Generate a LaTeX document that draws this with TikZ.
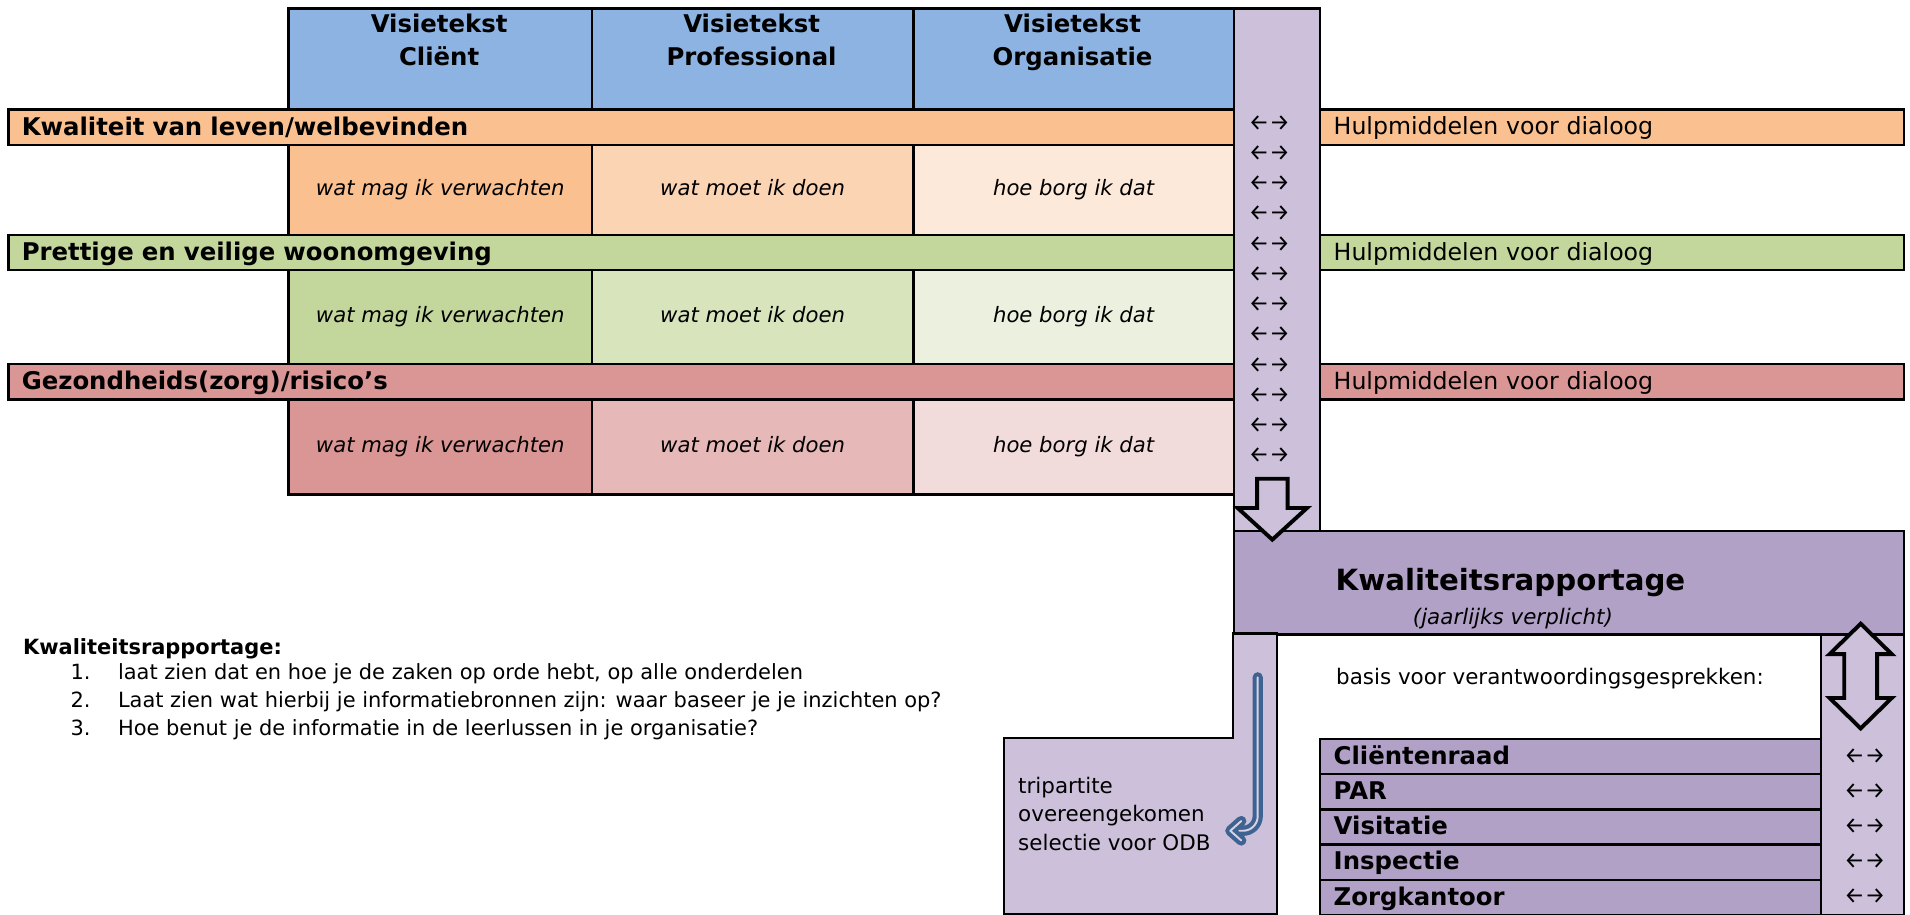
\documentclass[tikz,border=0pt]{standalone}
\usepackage{fontspec}
\usepackage{graphicx}
\setmainfont{DejaVu Sans}
\newfontfamily\firaF{Fira Sans}
\definecolor{hdrblue}{HTML}{8DB3E2}
\definecolor{lav}{HTML}{CCC0DA}
\definecolor{lavD}{HTML}{B2A1C7}
\definecolor{orA}{HTML}{FAC090}
\definecolor{orB}{HTML}{FBD4B4}
\definecolor{orC}{HTML}{FDE9D9}
\definecolor{grA}{HTML}{C3D69B}
\definecolor{grB}{HTML}{D7E4BC}
\definecolor{grC}{HTML}{EBF1DE}
\definecolor{rdA}{HTML}{D99694}
\definecolor{rdB}{HTML}{E6B9B8}
\definecolor{rdC}{HTML}{F2DCDB}
\definecolor{arrowblue}{HTML}{3F6390}
\definecolor{arrowinner}{HTML}{D8D2E6}
\newcommand\fsBar{\fontsize{10}{12}\selectfont\bfseries}
\newcommand\fsHulp{\fontsize{9.7}{11}\selectfont}
\newcommand\fsCell{\fontsize{8.7}{10}\selectfont\itshape}
\newcommand\fsSmall{\fontsize{8.6}{10}\selectfont}
\newcommand\lrarr{{\firaF\resizebox{17pt}{!}{←→}}}
\begin{document}
\begin{tikzpicture}[x=0.5pt,y=-0.5pt,line width=0.9pt,
  box/.style={draw=black,inner sep=0pt,anchor=north west},
  bar/.style={box,font=\fsBar,text height=7.5pt,text depth=1pt,align=left,inner xsep=5.5pt,inner ysep=0pt,minimum height=14.5pt,text width=492pt},
  hbar/.style={box,font=\fsHulp,text height=7.3pt,text depth=1pt,align=left,inner xsep=5.5pt,inner ysep=0pt,minimum height=14.5pt,text width=228.5pt},
  cell/.style={box,font=\fsCell,text height=6.6pt,text depth=1.9pt},
  hdrtext/.style={anchor=base,inner sep=0pt,font=\fsBar},
  arr/.style={inner sep=0pt},
  item/.style={box,fill=lavD,font=\fsBar,text height=7.5pt,text depth=1pt,align=left,inner xsep=5.5pt,inner ysep=0pt,minimum height=14.4pt,text width=194.5pt},
  txt/.style={anchor=base west,inner sep=0pt,font=\fsSmall},
  hollow/.style={draw=black,fill=lav,line width=1.6pt,line join=miter},
  bluearrow/.style={draw=arrowblue,double=arrowinner,double distance=0.8pt,line width=1.7pt,line cap=round,line join=round}]
\useasboundingbox (0,0) rectangle (1568,751);

% header
\node[box,fill=hdrblue,minimum width=124.5pt,minimum height=41.5pt] (h1) at (236,6) {};
\node[box,fill=hdrblue,minimum width=132pt,minimum height=41.5pt] (h2) at (485,6) {};
\node[box,fill=hdrblue,minimum width=131.5pt,minimum height=41.5pt] (h3) at (749,6) {};
\node[hdrtext] (h1a) at (360.5,27) {Visietekst};
\node[hdrtext] (h1b) at (360.5,54) {Cliënt};
\node[hdrtext] (h2a) at (617,27) {Visietekst};
\node[hdrtext] (h2b) at (617,54) {Professional};
\node[hdrtext] (h3a) at (880.5,27) {Visietekst};
\node[hdrtext] (h3b) at (880.5,54) {Organisatie};

% purple column
\node[box,fill=lav,minimum width=35.5pt,minimum height=214.5pt] (col) at (1012,6) {};

% theme 1
\node[bar,fill=orA] (b1) at (6,89) {Kwaliteit van leven/welbevinden};
\node[hbar,fill=orA] (r1) at (1083,89) {Hulpmiddelen voor dialoog};
\node[cell,fill=orA,minimum width=124.5pt,minimum height=37pt] (c11) at (236,118) {wat mag ik verwachten};
\node[cell,fill=orB,minimum width=132pt,minimum height=37pt] (c12) at (485,118) {wat moet ik doen};
\node[cell,fill=orC,minimum width=131.5pt,minimum height=37pt] (c13) at (749,118) {hoe borg ik dat};

% theme 2
\node[bar,fill=grA] (b2) at (6,192) {Prettige en veilige woonomgeving};
\node[hbar,fill=grA] (r2) at (1083,192) {Hulpmiddelen voor dialoog};
\node[cell,fill=grA,minimum width=124.5pt,minimum height=38.5pt] (c21) at (236,221) {wat mag ik verwachten};
\node[cell,fill=grB,minimum width=132pt,minimum height=38.5pt] (c22) at (485,221) {wat moet ik doen};
\node[cell,fill=grC,minimum width=131.5pt,minimum height=38.5pt] (c23) at (749,221) {hoe borg ik dat};

% theme 3
\node[bar,fill=rdA] (b3) at (6,298) {Gezondheids(zorg)/risico’s};
\node[hbar,fill=rdA] (r3) at (1083,298) {Hulpmiddelen voor dialoog};
\node[cell,fill=rdA,minimum width=124.5pt,minimum height=39pt] (c31) at (236,327) {wat mag ik verwachten};
\node[cell,fill=rdB,minimum width=132pt,minimum height=39pt] (c32) at (485,327) {wat moet ik doen};
\node[cell,fill=rdC,minimum width=131.5pt,minimum height=39pt] (c33) at (749,327) {hoe borg ik dat};

% column arrows
\foreach \i in {0,...,11}
  \node[arr] (ca\i) at (1042,{101+24.8*\i}) {\lrarr};

% rapportage box
\node[box,fill=lavD,minimum width=275pt,minimum height=42.5pt] (kr) at (1012,435) {};
\node[anchor=base,inner sep=0pt,font=\fontsize{12}{14}\selectfont\bfseries] (krt) at (1240,485) {Kwaliteitsrapportage};
\node[anchor=base,inner sep=0pt,font=\fontsize{8.8}{10}\selectfont\itshape] (krs) at (1242,513) {(jaarlijks verplicht)};

% hollow down arrow
\draw[hollow] (1032,393) -- (1057,393) -- (1057,417) -- (1073,417) -- (1044.5,443) -- (1016,417) -- (1032,417) -- cycle;

% left L shape
\draw[fill=lav] (1012,520) -- (1048,520) -- (1048,750) -- (824,750) -- (824,606) -- (1012,606) -- cycle;
\node[txt,font=\fontsize{8.8}{10}\selectfont] (tp1) at (835,651) {tripartite};
\node[txt,font=\fontsize{8.8}{10}\selectfont] (tp2) at (835,674.5) {overeengekomen};
\node[txt,font=\fontsize{8.8}{10}\selectfont] (tp3) at (835,698) {selectie voor ODB};

% blue hook arrow
\draw[bluearrow,rounded corners=6pt] (1032.5,556) -- (1032.5,682) -- (1011,682);
\draw[bluearrow] (1019,674) -- (1010,682) -- (1019,690);

% right strip
\node[box,fill=lav,minimum width=34pt,minimum height=115pt] (rs) at (1494,520) {};
\draw[hollow] (1527.5,512) -- (1553,537) -- (1541,537) -- (1541,573) -- (1553,573) -- (1527.5,598) -- (1502,573) -- (1514,573) -- (1514,537) -- (1502,537) -- cycle;

\node[txt,font=\fontsize{8.8}{10}\selectfont] (basis) at (1096,562) {basis voor verantwoordingsgesprekken:};

% items
\node[item] (i1) at (1083,606) {Cliëntenraad};
\node[item] (i2) at (1083,634.8) {PAR};
\node[item] (i3) at (1083,663.6) {Visitatie};
\node[item] (i4) at (1083,692.4) {Inspectie};
\node[item] (i5) at (1083,721.2) {Zorgkantoor};
\foreach \i in {0,...,4}
  \node[arr] (ra\i) at (1531,{620.4+28.8*\i}) {\lrarr};

% list
\node[txt,font=\fsSmall\bfseries] (lh) at (18,537) {Kwaliteitsrapportage:};
\node[txt] (n1) at (57,558) {1.};
\node[txt] (l1) at (96,558) {laat zien dat en hoe je de zaken op orde hebt, op alle onderdelen};
\node[txt] (n2) at (57,581) {2.};
\node[txt] (l2) at (96,581) {Laat zien wat hierbij je informatiebronnen zijn: waar baseer je je inzichten op?};
\node[txt] (n3) at (57,604) {3.};
\node[txt] (l3) at (96,604) {Hoe benut je de informatie in de leerlussen in je organisatie?};
\end{tikzpicture}
\end{document}
